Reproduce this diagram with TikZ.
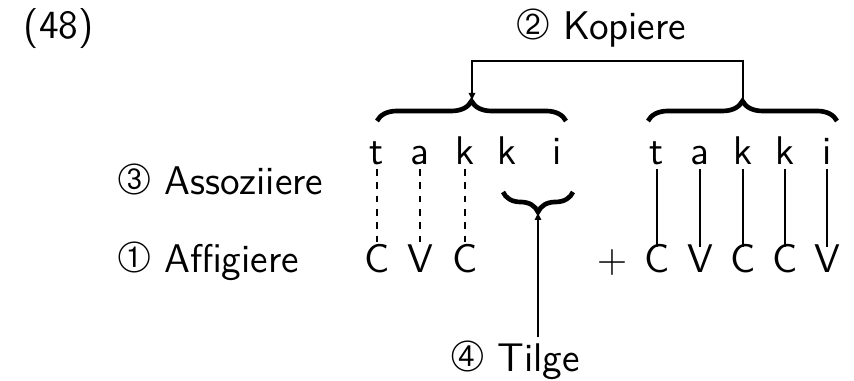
\documentclass[tikz,border=0pt]{standalone}
\usepackage{fontspec}
\usepackage{pifont}
\usetikzlibrary{arrows.meta,decorations.pathreplacing}

\newcommand{\circnum}[1]{{\fontsize{13}{14}\selectfont\ding{#1}}}

\tikzset{every picture/.style={line width=0.4pt},
  every node/.style={font=\fontsize{12}{14}\selectfont\sffamily},
  lbl/.style={inner sep=1pt},
  seg/.style={inner sep=1pt, text height=1.56ex, text depth=0pt, anchor=base},
  link/.style={arrows=-},
  assoc/.style={link, dash pattern=on 2pt off 2pt},
  bigbrace/.style={decorate, decoration={brace, amplitude=6pt}, line width=1.4pt},
  conn/.style={-{Latex[length=2.4pt,width=2.2pt]}}}

\begin{document}
\begin{tikzpicture}[x=0.3pt,y=0.3pt,yscale=-1,xscale=1]
\useasboundingbox (0,0) rectangle (854,381);

% Text Node
\node[lbl, anchor=base west] (exnum) at (20,39) {(48)};
% Text Node
\node[lbl, anchor=base] (kopiere) at (601,40) {\circnum{193} Kopiere};
% Text Node
\node[lbl, anchor=base west] (assoz) at (113,195) {\circnum{194} Assoziiere};
% Text Node
\node[lbl, anchor=base west] (affig) at (113,273) {\circnum{192} Affigiere};
% Text Node
\node[lbl, anchor=base] (tilge) at (515,372) {\circnum{195} Tilge};

% melody, left copy
\node[seg] (t1) at (377,165) {t};
\node[seg] (a1) at (420,165) {a};
\node[seg] (k1) at (465,165) {k};
\node[seg] (k2) at (507,165) {k};
\node[seg] (i1) at (557,165) {i};
% melody, right copy
\node[seg] (t2) at (657,165) {t};
\node[seg] (a2) at (700,165) {a};
\node[seg] (k3) at (743,165) {k};
\node[seg] (k4) at (785,165) {k};
\node[seg] (i2) at (827,165) {i};

% skeleton
\node[seg] (c1) at (377,273) {C};
\node[seg] (v1) at (420,273) {V};
\node[seg] (c2) at (465,273) {C};
\node[seg] (plus) at (612,273) {$+$};
\node[seg] (c3) at (657,273) {C};
\node[seg] (v2) at (700,273) {V};
\node[seg] (c4) at (743,273) {C};
\node[seg] (c5) at (785,273) {C};
\node[seg] (v3) at (827,273) {V};

% association lines
\draw[assoc] (t1) -- (c1);
\draw[assoc] (a1) -- (v1);
\draw[assoc] (k1) -- (c2);
\draw[link] (t2) -- (c3);
\draw[link] (a2) -- (v2);
\draw[link] (k3) -- (c4);
\draw[link] (k4) -- (c5);
\draw[link] (i2) -- (v3);

%Shape: Braces
\draw[bigbrace] (377,121) -- (566,121);
\draw[bigbrace] (648,121) -- (837,121);
\draw[bigbrace] (573,192) -- (503,192);
\coordinate (tipL) at (472,101);
\coordinate (tipR) at (743,101);
\coordinate (tipS) at (538,212);
\coordinate (copy) at (472,61);

% copy and delete arrows
\draw[conn] (tipR) |- (copy) -- (tipL);
\draw[conn] (tilge.north -| tipS) -- (tipS);

\end{tikzpicture}
\end{document}
